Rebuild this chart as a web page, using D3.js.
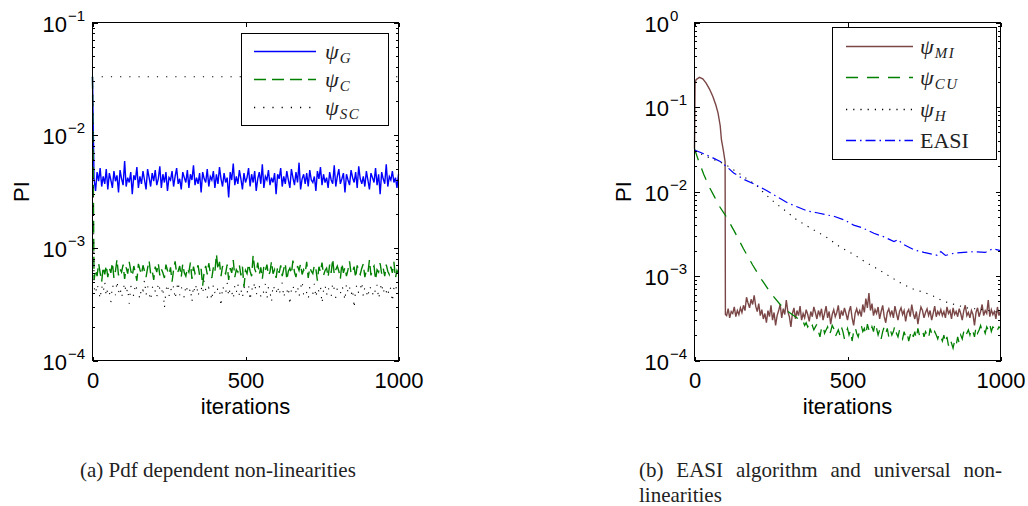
<!DOCTYPE html>
<html>
<head>
<meta charset="utf-8">
<script src="https://d3js.org/d3.v7.min.js"></script>
<style>
  body { margin: 0; background: #fff; }
</style>
</head>
<body>
<svg id="drawing_region" width="1028" height="506"></svg>
<script>
// ---------- panel (a): pdf dependent non-linearities ----------
// every noisy series starts at 0.033 at iteration 0, then sampled every 5 iterations (5..1000)
const startPI = 0.033;

// psi_G, PI x 1e-3
const psiG = [
  4.1,3.2,4.7,3.9,5.1,3.5,4.3,3.7,5.0,3.3, 4.6,4.0,3.4,4.8,3.9,4.4,3.1,4.9,4.1,3.6,
  5.9,3.5,4.2,3.8,4.7,3.0,4.4,4.0,5.2,3.4, 4.3,3.7,4.8,4.0,3.3,5.0,4.2,3.5,4.6,3.9,
  4.9,3.6,4.1,5.3,3.4,4.5,3.8,4.7,3.2,4.2, 4.0,4.8,3.5,4.3,5.1,3.7,4.1,3.3,4.7,4.2,
  3.8,4.9,3.4,4.5,4.0,5.4,3.6,4.2,3.7,4.6, 3.1,4.7,4.1,3.8,5.0,3.5,4.3,4.0,4.8,3.4,
  4.5,3.7,5.2,4.1,3.5,4.6,3.8,4.2,2.8,4.7, 4.0,5.6,3.6,4.3,3.7,4.9,4.1,3.3,4.6,3.8,
  4.2,5.1,3.5,4.5,3.8,4.8,3.2,4.1,4.7,3.7, 5.5,3.4,4.3,4.0,4.9,3.6,4.2,3.8,4.6,3.0,
  4.5,4.1,5.1,3.5,4.3,3.7,4.8,4.0,3.4,5.0, 4.2,3.6,4.7,3.8,5.7,3.3,4.1,4.5,3.7,4.6,
  3.5,4.9,4.0,3.8,4.3,3.2,4.8,4.1,5.2,3.6, 4.5,3.8,4.2,3.4,4.7,4.0,3.7,5.4,3.5,4.3,
  5.0,3.7,4.1,4.6,3.1,4.5,4.0,3.6,4.9,4.2, 3.8,4.7,3.4,5.3,4.1,3.7,4.3,3.5,4.8,4.0,
  3.3,4.6,4.2,3.8,5.1,3.6,4.5,3.0,4.7,4.1, 3.7,5.5,3.5,4.3,4.0,4.8,3.8,4.2,3.4,4.5
];

// psi_C, PI x 1e-4
const psiC = [
  5.2,6.4,5.6,7.3,6.0,5.0,6.8,5.8,7.0,5.5, 6.6,6.0,7.4,5.4,6.2,7.9,5.7,6.5,6.1,7.1,
  5.3,6.7,5.9,7.5,6.3,5.6,6.9,6.0,5.1,7.2, 6.4,5.8,7.0,6.2,5.5,6.6,7.7,5.9,6.3,5.2,
  6.8,6.1,7.3,5.7,6.5,6.0,5.4,7.1,6.3,5.8, 6.7,5.0,6.4,7.6,5.9,6.2,6.9,5.5,7.2,6.0,
  5.6,6.6,6.1,7.4,5.3,6.8,5.9,6.3,7.0,5.7, 6.5,4.6,6.2,6.9,5.8,7.3,6.0,5.4,6.7,6.1,
  8.8,6.4,7.5,5.6,6.9,6.2,5.9,7.1,5.2,6.6, 6.0,7.8,5.5,6.4,6.1,7.0,5.7,6.8,4.5,6.3,
  5.9,7.2,6.2,5.6,8.6,6.5,6.0,7.4,5.8,6.7, 5.3,6.9,6.3,7.1,5.7,6.1,7.6,5.9,6.4,5.4,
  6.8,6.0,7.0,5.6,6.5,7.3,5.2,6.2,6.6,5.9, 7.7,6.1,5.5,6.9,6.3,7.2,5.8,6.4,6.0,7.5,
  5.4,6.7,6.2,5.9,7.0,6.5,5.1,6.8,6.1,7.4, 5.7,6.3,6.6,5.5,7.1,6.0,8.0,5.8,6.4,6.9,
  6.2,5.3,7.3,6.0,6.7,5.6,6.4,7.6,5.9,6.2, 6.8,5.4,7.0,6.1,5.8,6.6,7.2,5.5,6.3,6.0,
  7.8,5.7,6.5,6.9,5.2,6.4,6.1,7.3,5.9,6.6, 5.6,7.1,6.2,5.8,6.8,6.0,7.5,5.4,6.3,5.9
];

// psi_SC, PI x 1e-4
const psiSC = [
  4.5,3.9,4.8,4.2,3.5,4.6,4.0,5.0,3.7,4.4, 4.1,3.3,4.7,4.3,3.8,5.1,4.0,4.5,3.6,4.2,
  4.9,3.9,4.4,3.2,4.6,4.1,3.7,4.8,4.3,4.0, 3.5,4.5,4.2,5.2,3.8,4.6,4.0,3.4,4.4,4.7,
  4.1,3.6,4.9,4.3,3.9,4.5,2.9,4.2,4.8,3.7, 4.4,4.0,4.6,3.5,4.3,5.0,3.8,4.5,4.1,3.6,
  4.7,4.2,3.9,4.4,3.3,4.6,4.0,4.8,3.7,4.3, 4.5,3.9,5.1,4.2,3.6,4.4,4.1,3.4,4.7,4.0,
  3.8,4.5,4.3,3.0,4.6,4.2,3.9,4.9,3.7,4.4, 4.1,3.5,4.6,4.0,4.8,3.8,4.3,3.6,4.5,4.2,
  3.9,4.7,3.4,4.4,4.1,5.0,3.8,4.3,4.6,3.7, 4.2,4.0,4.8,3.5,4.5,4.1,3.3,4.7,4.3,3.9,
  4.6,3.8,4.4,4.9,3.6,4.2,4.0,4.5,3.1,4.3, 4.7,3.9,4.1,4.6,3.7,4.4,5.1,3.8,4.2,4.0,
  3.5,4.5,4.3,3.9,4.8,3.6,4.4,4.1,4.6,3.2, 4.2,4.7,3.8,4.5,4.0,3.7,4.9,4.3,3.6,4.4,
  4.1,3.9,4.6,4.2,3.4,4.8,4.0,4.5,3.8,4.3, 2.9,4.4,4.7,3.9,4.2,5.0,3.7,4.5,4.1,3.6,
  4.6,4.3,3.8,4.4,4.0,4.7,3.5,4.2,4.9,3.9, 4.5,4.1,3.7,4.6,4.3,3.3,4.4,4.8,4.0,4.2
];

// dotted psi_SC level seen at the top of panel (a)
const scLevelIter = [30, 1000];
const scLevel = [0.033, 0.033];

// ---------- panel (b): EASI and universal non-linearities ----------
const miHeadIter = [0, 2, 5, 16, 27, 38, 49, 60, 70, 77, 84, 88, 94, 100, 101];
const miHead = [0.032, 0.19, 0.21, 0.224, 0.215, 0.192, 0.163, 0.133, 0.105, 0.0845, 0.06, 0.041, 0.031, 0.0225, 0.00035];
// psi_MI after the drop, PI x 1e-4, every 5 iterations from 105 to 1000
const miTail = [
  3.4,4.1,3.2,3.8,3.6,4.3,3.3,3.9,3.5,4.2, 3.7,4.5,3.9,5.6,4.8,4.2,5.3,4.6,5.9,4.4,
  3.8,4.7,3.4,4.0,3.1,3.6,2.8,3.9,3.3,4.5, 3.0,3.7,2.6,3.4,3.9,4.6,3.2,4.1,3.5,5.2,
  3.8,3.3,2.5,3.6,4.2,3.1,3.9,3.4,4.4,3.0, 3.6,3.2,4.0,3.5,2.9,3.8,3.3,4.3,3.7,3.1,
  3.9,3.4,4.1,3.0,3.6,4.4,3.2,3.8,2.7,3.5, 4.0,3.3,3.7,4.5,3.1,3.9,3.4,4.2,3.6,3.0,
  3.8,4.4,3.2,2.6,3.6,4.1,3.5,3.9,3.3,4.6, 3.7,5.4,4.2,6.3,3.9,4.7,3.4,4.0,3.6,4.3,
  3.1,3.8,4.5,3.3,2.8,3.7,4.1,3.4,3.9,3.2, 4.4,3.6,3.0,3.8,4.2,3.5,3.9,2.9,3.7,4.0,
  3.3,4.6,3.6,3.1,3.8,2.7,3.5,4.3,3.9,3.2, 3.7,4.1,3.4,3.9,3.0,3.6,4.4,3.3,3.8,3.5,
  4.0,3.4,3.8,3.2,4.3,3.6,3.9,3.1,4.2,3.5, 3.8,3.3,4.1,3.6,3.0,3.9,4.5,3.4,3.7,3.2,
  3.9,3.5,2.6,3.7,4.2,3.3,3.8,4.6,3.4,3.9, 3.6,5.2,3.3,4.0,3.5,3.8,3.1,4.3,3.4,3.9
];

const cuHeadIter = [0, 10, 30, 50, 65, 80, 100, 130, 160, 190, 220, 250, 280, 310, 340];
const cuHead = [0.032, 0.025, 0.016, 0.011, 0.0087, 0.0068, 0.0053, 0.0034, 0.0021, 0.00135, 0.0009, 0.00062, 0.00046, 0.00037, 0.00031];
// psi_CU, PI x 1e-4, every 5 iterations from 345 to 1000
const cuTail = [
  3.0,2.8,2.9,2.6,2.8,2.5,2.7,2.4,2.6,2.3, 2.5,2.7,2.2,1.9,2.4,2.6,2.1,2.3,2.5,2.0,
  2.2,2.6,2.4,1.9,2.1,2.3,2.0,2.5,2.2,1.8, 2.1,2.4,2.0,2.3,1.7,2.2,2.5,2.1,1.9,2.3,
  2.6,2.2,2.4,2.0,2.7,2.3,2.1,2.5,2.2,2.8, 2.4,2.0,2.3,1.8,2.2,2.5,2.1,2.4,1.9,2.3,
  2.0,2.2,2.6,2.1,1.9,2.3,2.0,1.8,2.2,1.9, 2.1,1.7,2.0,2.3,1.9,2.2,1.8,2.4,2.0,2.1,
  2.3,1.9,2.2,2.0,1.8,2.4,2.1,1.9,2.2,2.0, 1.8,2.1,1.9,1.7,2.0,1.6,1.9,1.5,1.8,1.6,
  1.4,1.7,1.5,1.9,1.6,2.0,1.8,2.2,1.9,2.1, 2.3,2.0,2.4,2.2,1.9,2.5,2.1,2.3,2.6,2.2,
  2.4,2.1,2.5,2.3,2.7,2.2,2.5,2.4,2.6,2.3, 2.5,2.4
];

const hIter = [0, 50, 100, 150, 200, 226, 260, 300, 335, 390, 430, 476, 520, 560, 600, 640, 680, 715, 750, 780, 815, 850, 890, 940, 1000];
const hVal = [0.030, 0.025, 0.021, 0.016, 0.012, 0.0097, 0.0075, 0.0058, 0.0046, 0.0035, 0.0029, 0.0022, 0.0018, 0.00145, 0.0012, 0.00098, 0.0008, 0.0007, 0.00064, 0.00058, 0.0005, 0.00046, 0.00042, 0.0004, 0.00037];

const easiIter = [0, 30, 60, 84, 110, 128, 160, 200, 237, 270, 302, 335, 368, 400, 430, 455, 490, 520, 550, 586, 620, 652, 665, 680, 717, 750, 793, 805, 820, 848, 880, 913, 950, 975, 1000];
const easiVal = [0.031, 0.028, 0.025, 0.0227, 0.019, 0.0166, 0.014, 0.012, 0.0102, 0.0087, 0.0074, 0.0066, 0.0059, 0.0056, 0.0053, 0.0051, 0.0046, 0.0040, 0.0037, 0.0032, 0.0029, 0.00255, 0.0027, 0.0024, 0.00204, 0.0019, 0.00176, 0.00195, 0.00175, 0.00186, 0.0019, 0.00194, 0.0019, 0.0021, 0.0020];

// ---------- helpers ----------
const zip = (xs, ys) => xs.map((v, i) => [v, ys[i]]);
const noisy = (from, vals, unit, head) =>
  head.concat(vals.map((v, i) => [from + 5 * i, v * unit]));

const panelA = [
  { name: 'ψ', sub: 'G', color: '#0000ff', dash: null, width: 1.4,
    pts: noisy(5, psiG, 1e-3, [[0, startPI]]) },
  { name: 'ψ', sub: 'C', color: '#008000', dash: '12,6', width: 1.4,
    pts: noisy(5, psiC, 1e-4, [[0, startPI]]) },
  { name: 'ψ', sub: 'SC', color: '#000000', dash: '1.2,8', width: 1.1,
    pts: noisy(5, psiSC, 1e-4, [[0, startPI]]),
    extra: zip(scLevelIter, scLevel) }
];

const panelB = [
  { name: 'ψ', sub: 'MI', color: '#7a4646', dash: null, width: 1.4,
    pts: noisy(105, miTail, 1e-4, zip(miHeadIter, miHead)) },
  { name: 'ψ', sub: 'CU', color: '#008000', dash: '12,9', width: 1.3,
    pts: noisy(345, cuTail, 1e-4, zip(cuHeadIter, cuHead)) },
  { name: 'ψ', sub: 'H', color: '#000000', dash: '1.2,6', width: 1.1,
    pts: zip(hIter, hVal) },
  { name: 'EASI', sub: null, color: '#0000ff', dash: '10,4,1.5,4', width: 1.2,
    pts: zip(easiIter, easiVal) }
];

class LogPanel {

  constructor(config, series) {
    this.config = config;
    this.series = series;
    this.init();
  }

  init() {
    let self = this;
    const c = self.config;

    self.svg = d3.select(c.parent);
    self.chart = self.svg.append('g');

    self.xscale = d3.scaleLinear()
      .domain([0, 1000])
      .range([c.left, c.right]);

    self.yscale = d3.scaleLog()
      .domain(c.ydomain)
      .range([c.bottom, c.top]);
  }

  render() {
    let self = this;
    const c = self.config;
    const x = self.xscale, y = self.yscale;

    const line = d3.line()
      .x(d => x(d[0]))
      .y(d => y(d[1]));

    // series
    self.series.forEach(s => {
      [s.pts, s.extra].filter(p => p).forEach(p => {
        self.chart.append('path')
          .datum(p)
          .attr('d', line)
          .attr('fill', 'none')
          .attr('stroke', s.color)
          .attr('stroke-width', s.width)
          .attr('stroke-dasharray', s.dash);
      });
    });

    // ticks
    const lo = Math.round(Math.log10(c.ydomain[0]));
    const hi = Math.round(Math.log10(c.ydomain[1]));
    const majors = d3.range(lo, hi + 1).map(e => Math.pow(10, e));
    const minors = [];
    d3.range(lo, hi).forEach(e => {
      for (let k = 2; k <= 9; k++) minors.push(k * Math.pow(10, e));
    });

    const axes = [
      [d3.axisBottom(x).tickValues([0, 500, 1000]).tickSizeInner(-4).tickFormat(d3.format('d')), `translate(0,${c.bottom})`],
      [d3.axisTop(x).tickValues([0, 500, 1000]).tickSizeInner(-4).tickFormat(''), `translate(0,${c.top})`],
      [d3.axisLeft(y).tickValues(majors).tickSizeInner(-5).tickFormat(''), `translate(${c.left},0)`],
      [d3.axisLeft(y).tickValues(minors).tickSizeInner(-2.5).tickFormat(''), `translate(${c.left},0)`],
      [d3.axisRight(y).tickValues(majors).tickSizeInner(-5).tickFormat(''), `translate(${c.right},0)`],
      [d3.axisRight(y).tickValues(minors).tickSizeInner(-2.5).tickFormat(''), `translate(${c.right},0)`]
    ];
    axes.forEach(([ax, tr]) => {
      const g = self.chart.append('g')
        .attr('transform', tr)
        .call(ax.tickSizeOuter(0).tickPadding(12))
        .attr('font-family', '"Liberation Sans", Arial, sans-serif')
        .attr('font-size', 22);
      g.select('.domain').remove();
      g.selectAll('line').attr('stroke', '#000').attr('shape-rendering', 'crispEdges');
      g.selectAll('text').attr('fill', '#000');
    });

    // box
    self.chart.append('rect')
      .attr('x', c.left).attr('y', c.top)
      .attr('width', c.right - c.left).attr('height', c.bottom - c.top)
      .attr('fill', 'none').attr('stroke', '#000')
      .attr('shape-rendering', 'crispEdges');

    // y tick labels 10^e
    const lab = self.chart.append('g')
      .attr('font-family', '"Liberation Sans", Arial, sans-serif')
      .attr('fill', '#000');
    majors.forEach(v => {
      const e = Math.round(Math.log10(v));
      lab.append('text')
        .attr('x', c.left - 25.5).attr('y', y(v) + 9)
        .attr('text-anchor', 'end').attr('font-size', 22)
        .text('10');
      lab.append('text')
        .attr('x', c.left - 24.5).attr('y', y(v) - 2)
        .attr('font-size', 15)
        .text(e < 0 ? '\u2212' + (-e) : String(e));
    });

    // axis titles
    lab.append('text')
      .attr('x', (c.left + c.right) / 2).attr('y', 414)
      .attr('text-anchor', 'middle').attr('font-size', 22)
      .text('iterations');
    lab.append('text')
      .attr('transform', `translate(${c.left - 63.5},${(c.top + c.bottom) / 2}) rotate(-90)`)
      .attr('text-anchor', 'middle').attr('font-size', 22)
      .text('PI');

    // legend
    const L = c.legend;
    const leg = self.chart.append('g');
    leg.append('rect')
      .attr('x', L.x0).attr('y', L.y0)
      .attr('width', L.x1 - L.x0).attr('height', L.y1 - L.y0)
      .attr('fill', '#fff').attr('stroke', '#000')
      .attr('stroke-width', 1.3)
      .attr('shape-rendering', 'crispEdges');
    self.series.forEach((s, i) => {
      const ry = Math.round(L.row0 + i * L.step) + 0.5;
      leg.append('line')
        .attr('x1', L.lx0).attr('x2', L.lx1)
        .attr('y1', ry).attr('y2', ry)
        .attr('stroke', s.color).attr('stroke-width', 1.5)
        .attr('stroke-dasharray', s.dash);
      const t = leg.append('text')
        .attr('x', L.tx).attr('y', ry + 7)
        .attr('font-family', '"Liberation Serif", "Times New Roman", serif')
        .attr('font-size', 22).attr('fill', '#222');
      if (s.sub) {
        t.append('tspan').attr('font-style', 'italic').text(s.name);
        t.append('tspan').attr('font-style', 'italic').attr('font-size', 15)
          .attr('dy', 4).attr('dx', 1).attr('letter-spacing', 1.5).text(s.sub);
      } else {
        t.text(s.name);
      }
    });
  }
}

const chartA = new LogPanel({
  parent: '#drawing_region',
  left: 92.5, right: 398.5, top: 22.5, bottom: 360.5,
  ydomain: [1e-4, 1e-1],
  legend: { x0: 241.5, x1: 388.5, y0: 33.5, y1: 125.5, lx0: 254, lx1: 316, tx: 325, row0: 51, step: 28 }
}, panelA);
chartA.render();

const chartB = new LogPanel({
  parent: '#drawing_region',
  left: 694.5, right: 1000.5, top: 22.5, bottom: 360.5,
  ydomain: [1e-4, 1],
  legend: { x0: 832.5, x1: 996.5, y0: 27.5, y1: 159.5, lx0: 846, lx1: 913, tx: 920, row0: 46, step: 31.3 }
}, panelB);
chartB.render();

// captions
const svg = d3.select('#drawing_region');
const cap = svg.append('g')
  .attr('font-family', '"Liberation Serif", "Times New Roman", serif')
  .attr('font-size', 21)
  .attr('fill', '#222');
cap.append('text').attr('x', 80).attr('y', 477).text('(a) Pdf dependent non-linearities');

// justified first line of caption (b): stretch the word spacing to the column width
const capB = cap.append('text').attr('x', 639).attr('y', 477)
  .text('(b) EASI algorithm and universal non-');
const natural = capB.node().getComputedTextLength();
capB.attr('word-spacing', (1002 - 639 - natural) / 5);
cap.append('text').attr('x', 639).attr('y', 502).text('linearities');
</script>
</body>
</html>
